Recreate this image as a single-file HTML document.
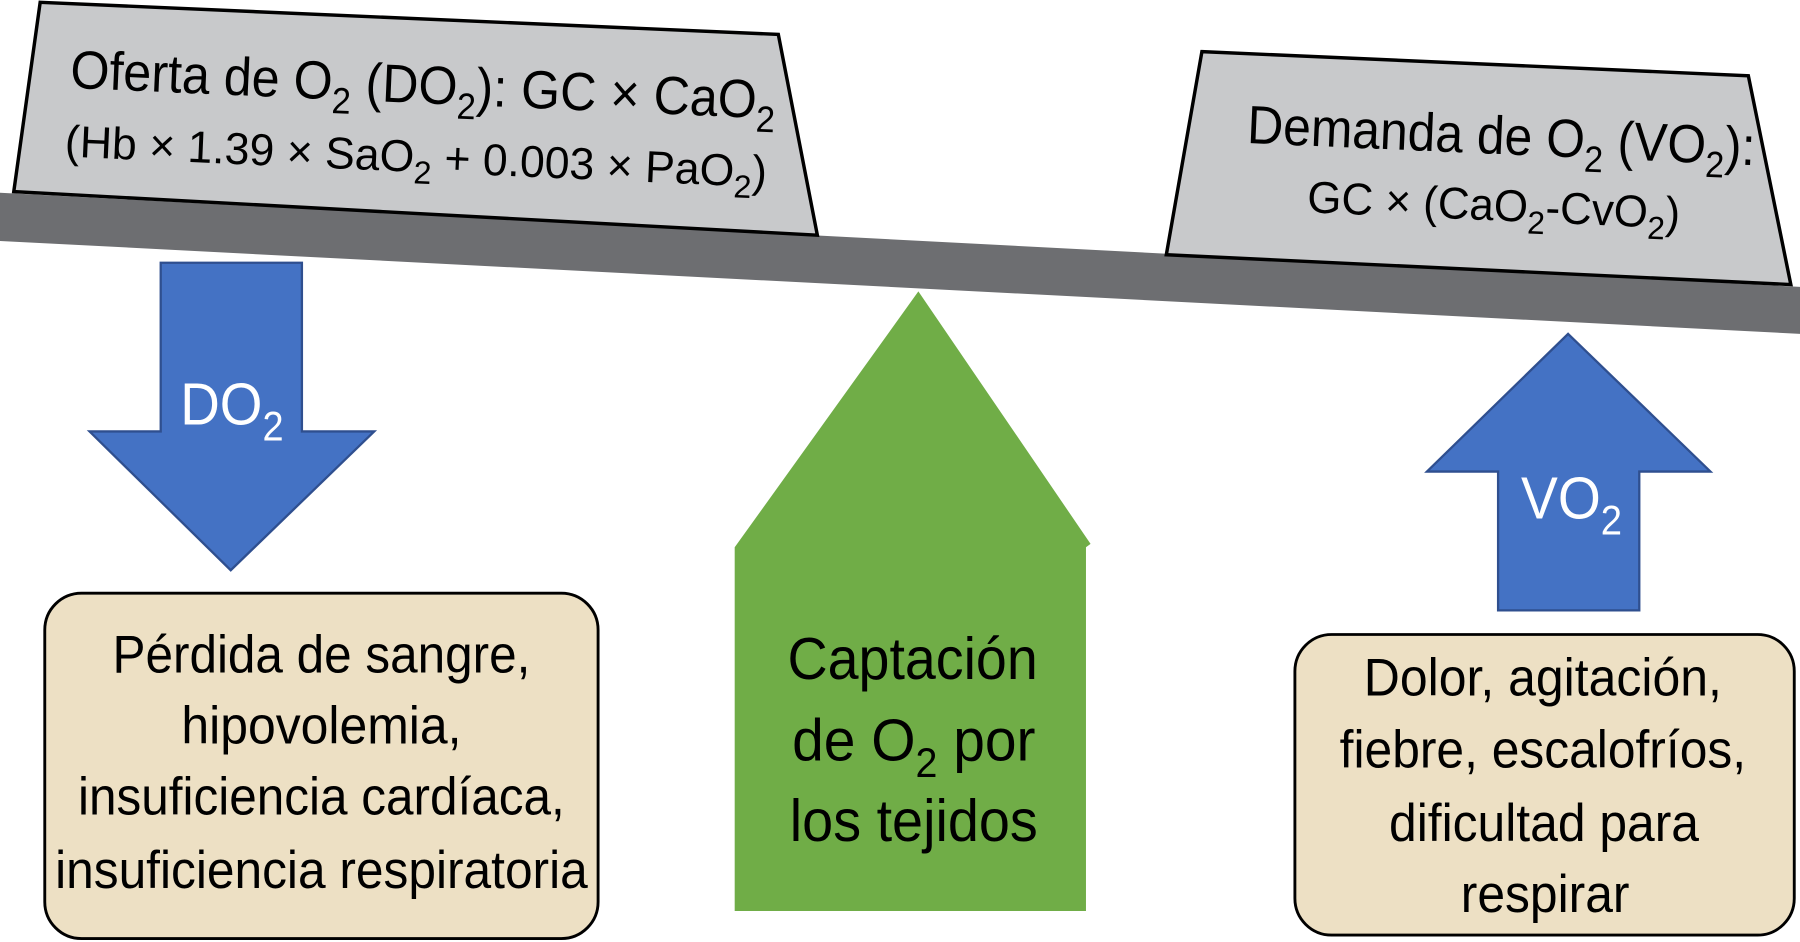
<!DOCTYPE html>
<html><head><meta charset="utf-8"><style>html,body{margin:0;padding:0;background:#fff}svg{display:block}</style></head>
<body>
<svg width="1800" height="942" viewBox="0 0 1568 821" preserveAspectRatio="none" xmlns="http://www.w3.org/2000/svg" font-family="Liberation Sans, sans-serif">
<polygon points="0,168 1568,250 1568,291 0,210" fill="#6d6e71"/>
<polygon points="35,2 678,30 712,205 12,167" fill="#c8c9cb" stroke="#000" stroke-width="3"/>
<polygon points="1047,45 1523,66 1560,248 1016,222" fill="#c8c9cb" stroke="#000" stroke-width="3"/>
<g transform="rotate(2.5 368 100)">
<text x="60" y="90" font-size="47" textLength="615" lengthAdjust="spacingAndGlyphs">Oferta de O<tspan dy="12" font-size="32">2</tspan><tspan dy="-12"> (DO</tspan><tspan dy="12" font-size="32">2</tspan><tspan dy="-12">): GC × CaO</tspan><tspan dy="12" font-size="32">2</tspan></text>
<text x="58" y="150" font-size="39" textLength="612" lengthAdjust="spacingAndGlyphs">(Hb × 1.39 × SaO<tspan dy="10" font-size="28">2</tspan><tspan dy="-10"> + 0.003 × PaO</tspan><tspan dy="10" font-size="28">2</tspan><tspan dy="-10">)</tspan></text>
</g>
<g transform="rotate(2.5 1300 150)">
<text x="1085" y="134" font-size="47" textLength="443" lengthAdjust="spacingAndGlyphs">Demanda de O<tspan dy="12" font-size="32">2</tspan><tspan dy="-12"> (VO</tspan><tspan dy="12" font-size="32">2</tspan><tspan dy="-12">):</tspan></text>
<text x="1140" y="192" font-size="39" textLength="325" lengthAdjust="spacingAndGlyphs">GC × (CaO<tspan dy="10" font-size="28">2</tspan><tspan dy="-10">-CvO</tspan><tspan dy="10" font-size="28">2</tspan><tspan dy="-10">)</tspan></text>
</g>
<polygon points="140,229 263,229 263,376 326,376 201,497 78,376 140,376" fill="#4472c4" stroke="#2f4f8f" stroke-width="2"/>
<text x="157" y="370" font-size="52" fill="#fff" textLength="90" lengthAdjust="spacingAndGlyphs">DO<tspan dy="14" font-size="36">2</tspan></text>
<polygon points="640,477 800,254 950,474 946,477 946,794 640,794" fill="#70ad47"/>
<g font-size="52" text-anchor="middle">
<text x="795" y="592" textLength="218" lengthAdjust="spacingAndGlyphs">Captación</text>
<text x="796" y="663" textLength="212" lengthAdjust="spacingAndGlyphs">de O<tspan dy="14" font-size="36">2</tspan><tspan dy="-14"> por</tspan></text>
<text x="796" y="733" textLength="216" lengthAdjust="spacingAndGlyphs">los tejidos</text>
</g>
<polygon points="1366,291 1490,411 1428,411 1428,532 1305,532 1305,411 1243,411" fill="#4472c4" stroke="#2f4f8f" stroke-width="2"/>
<text x="1325" y="452" font-size="52" fill="#fff" textLength="88" lengthAdjust="spacingAndGlyphs">VO<tspan dy="14" font-size="36">2</tspan></text>
<rect x="39" y="517" width="482" height="301" rx="32" fill="#ede0c4" stroke="#000" stroke-width="2.5"/>
<g font-size="46" text-anchor="middle">
<text x="280" y="586" textLength="364" lengthAdjust="spacingAndGlyphs">Pérdida de sangre,</text>
<text x="280" y="648" textLength="244" lengthAdjust="spacingAndGlyphs">hipovolemia,</text>
<text x="280" y="710" textLength="424" lengthAdjust="spacingAndGlyphs">insuficiencia cardíaca,</text>
<text x="280" y="774" textLength="464" lengthAdjust="spacingAndGlyphs">insuficiencia respiratoria</text>
</g>
<rect x="1128" y="553" width="435" height="262" rx="32" fill="#ede0c4" stroke="#000" stroke-width="2.5"/>
<g font-size="46" text-anchor="middle">
<text x="1344" y="606" textLength="312" lengthAdjust="spacingAndGlyphs">Dolor, agitación,</text>
<text x="1344" y="669" textLength="354" lengthAdjust="spacingAndGlyphs">fiebre, escalofríos,</text>
<text x="1345" y="733" textLength="270" lengthAdjust="spacingAndGlyphs">dificultad para</text>
<text x="1346" y="795" textLength="147" lengthAdjust="spacingAndGlyphs">respirar</text>
</g>
</svg>
</body></html>
